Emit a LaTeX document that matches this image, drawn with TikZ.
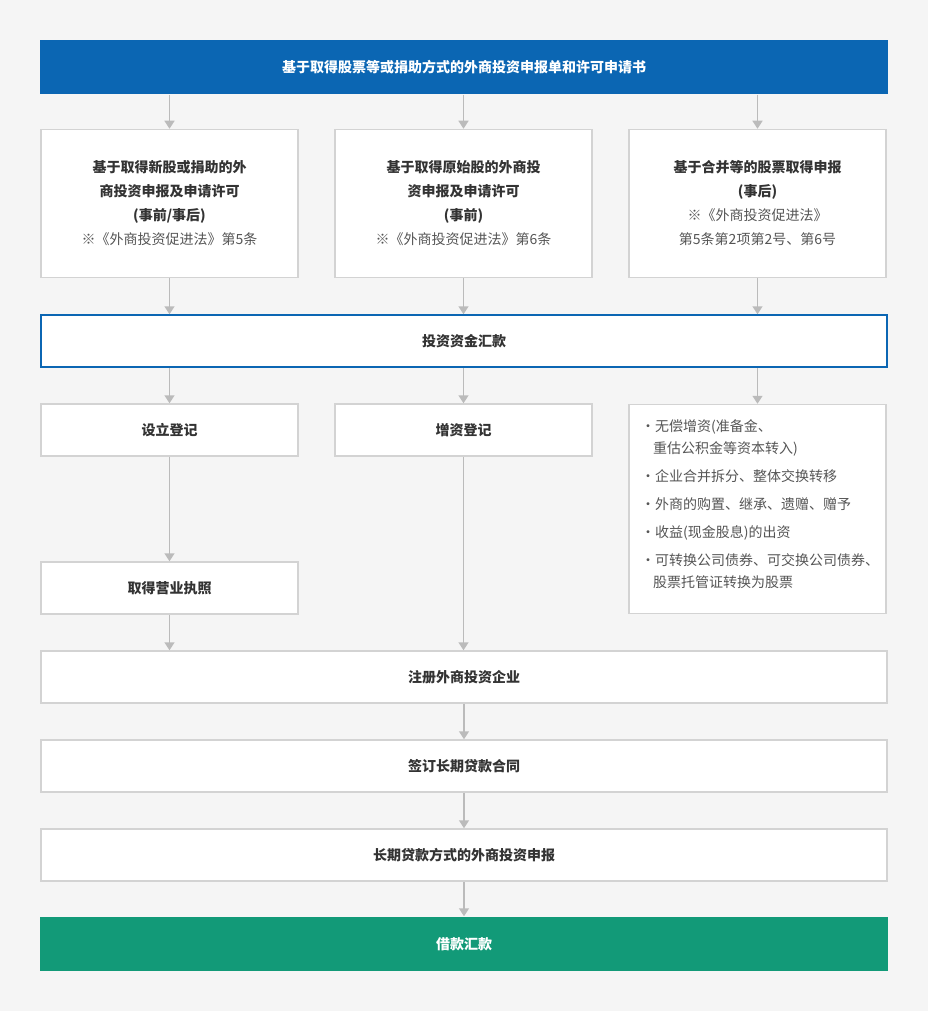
\documentclass[tikz,border=0pt]{standalone}
\usepackage{fontspec}
\setmainfont{Noto Sans CJK SC}
\usetikzlibrary{arrows.meta}
\definecolor{bg}{HTML}{F5F5F5}
\definecolor{topblue}{HTML}{0B66B3}
\definecolor{fingreen}{HTML}{129A78}
\definecolor{bordergray}{HTML}{D3D3D3}
\definecolor{arrowgray}{HTML}{BBBBBB}
\definecolor{txt}{HTML}{333333}
\definecolor{txtlight}{HTML}{555555}
\newcommand\mynote[1]{{\mdseries\color{txtlight}#1}}
\tikzset{
  box/.style={draw=bordergray,line width=1.5pt,fill=white,rectangle,align=center,text=txt,font=\fontsize{14}{24}\selectfont\bfseries,inner sep=0pt},
  arr/.style={draw=arrowgray,line width=1.5pt,-{Triangle[length=8pt,width=10pt]}}
}
\begin{document}
\begin{tikzpicture}[x=1pt,y=-1pt]
\fill[bg] (0,0) rectangle (928,1011);
\useasboundingbox (0,0) rectangle (928,1011);
\node[box,fill=topblue,draw=none,text=white,minimum width=848pt,minimum height=54pt] (top) at (464,67) {基于取得股票等或捐助方式的外商投资申报单和许可申请书};
\node[box,minimum width=257pt,minimum height=148pt] (b1) at (169.5,203.5) {基于取得新股或捐助的外\\商投资申报及申请许可\\(事前/事后)\\\mynote{※《外商投资促进法》第5条}};
\node[box,minimum width=257pt,minimum height=148pt] (b2) at (463.5,203.5) {基于取得原始股的外商投\\资申报及申请许可\\(事前)\\\mynote{※《外商投资促进法》第6条}};
\node[box,minimum width=257pt,minimum height=148pt] (b3) at (757.5,203.5) {基于合并等的股票取得申报\\(事后)\\\mynote{※《外商投资促进法》}\\\mynote{第5条第2项第2号、第6号}};
\node[box,draw=topblue,minimum width=846pt,minimum height=52pt] (remit) at (464,341) {投资资金汇款};
\node[box,minimum width=257pt,minimum height=52pt] (s1) at (169.5,430) {设立登记};
\node[box,minimum width=257pt,minimum height=52pt] (s2) at (463.5,430) {增资登记};
\node[box,minimum width=257pt,minimum height=209pt] (s3) at (757.5,509) {};
\node[anchor=north west,align=left,inner sep=0pt,text=txtlight,font=\fontsize{14}{22}\selectfont] (s3t) at (641,419) {%
・无偿增资(准备金、\\\hspace*{12pt}重估公积金等资本转入)\\[6pt]
・企业合并拆分、整体交换转移\\[6pt]
・外商的购置、继承、遗赠、赠予\\[6pt]
・收益(现金股息)的出资\\[6pt]
・可转换公司债券、可交换公司债券、\\\hspace*{12pt}股票托管证转换为股票};
\node[box,minimum width=257pt,minimum height=52pt] (lic) at (169.5,588) {取得营业执照};
\node[box,minimum width=846pt,minimum height=52pt] (reg) at (464,677) {注册外商投资企业};
\node[box,minimum width=846pt,minimum height=52pt] (sign) at (464,766) {签订长期贷款合同};
\node[box,minimum width=846pt,minimum height=52pt] (rep) at (464,855) {长期贷款方式的外商投资申报};
\node[box,fill=fingreen,draw=none,text=white,minimum width=848pt,minimum height=54pt] (fin) at (464,944) {借款汇款};
\draw[arr] (top.south -| b1) -- (b1);
\draw[arr] (top.south -| b2) -- (b2);
\draw[arr] (top.south -| b3) -- (b3);
\draw[arr] (b1) -- (b1 |- remit.north);
\draw[arr] (b2) -- (b2 |- remit.north);
\draw[arr] (b3) -- (b3 |- remit.north);
\draw[arr] (remit.south -| s1) -- (s1);
\draw[arr] (remit.south -| s2) -- (s2);
\draw[arr] (remit.south -| s3) -- (s3);
\draw[arr] (s1) -- (lic);
\draw[arr] (lic) -- (lic |- reg.north);
\draw[arr] (s2) -- (s2 |- reg.north);
\draw[arr] (reg) -- (sign);
\draw[arr] (sign) -- (rep);
\draw[arr] (rep) -- (fin);
\end{tikzpicture}
\end{document}
